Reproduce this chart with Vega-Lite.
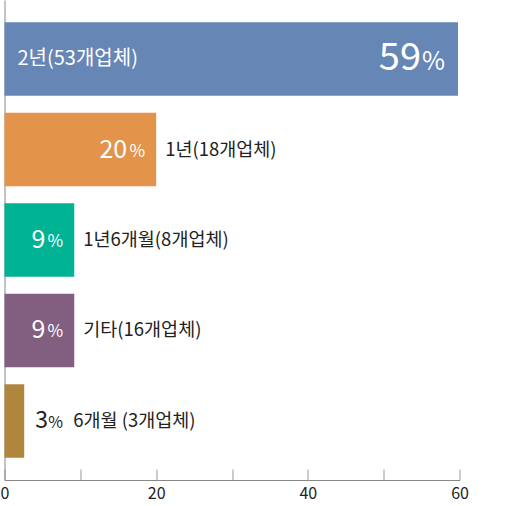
{
  "$schema": "https://vega.github.io/schema/vega-lite/v6.json",
  "width": 455,
  "height": 480,
  "autosize": {"type": "none"},
  "padding": {"left": 4.5, "top": 0, "right": 59.5, "bottom": 26},
  "config": {"view": {"stroke": null}, "font": "Noto Sans CJK KR"},
  "data": {
    "values": [
      {"rank": 1, "label": "2년(53개업체)", "pct": "59", "value": 59.8},
      {"rank": 2, "label": "1년(18개업체)", "pct": "20", "value": 20},
      {"rank": 3, "label": "1년6개월(8개업체)", "pct": "9", "value": 9.2},
      {"rank": 4, "label": "기타(16개업체)", "pct": "9", "value": 9.2},
      {"rank": 5, "label": "6개월 (3개업체)", "pct": "3", "value": 2.6}
    ]
  },
  "encoding": {
    "y": {
      "field": "rank",
      "type": "ordinal",
      "scale": {"paddingInner": 0.19, "paddingOuter": 0.247},
      "axis": {"title": null, "labels": false, "ticks": false, "grid": false, "domainColor": "#888"}
    },
    "x": {
      "field": "value",
      "type": "quantitative",
      "scale": {"domain": [0, 60], "nice": false},
      "axis": {
        "title": null,
        "grid": false,
        "values": [0, 10, 20, 30, 40, 50, 60],
        "labelExpr": "datum.value % 20 === 0 ? datum.label : ''",
        "labelFlush": false,
        "tickSize": -11,
        "tickColor": "#999",
        "domainColor": "#888",
        "labelFont": "Noto Sans CJK KR",
        "labelFontSize": 16,
        "labelColor": "#222",
        "labelPadding": 16
      }
    }
  },
  "layer": [
    {
      "mark": {"type": "bar"},
      "encoding": {
        "color": {
          "field": "rank",
          "type": "ordinal",
          "scale": {"range": ["#6686b6", "#e3934a", "#00b394", "#825e80", "#b0863c"]},
          "legend": null
        }
      }
    },
    {
      "transform": [{"filter": "datum.rank === 1"}],
      "mark": {"type": "text", "align": "left", "baseline": "middle", "dx": 13, "fontSize": 20, "color": "white"},
      "encoding": {"x": {"datum": 0}, "text": {"field": "label"}}
    },
    {
      "transform": [{"filter": "datum.rank > 1 && datum.rank < 5"}],
      "mark": {"type": "text", "align": "left", "baseline": "middle", "dx": 9, "fontSize": 18.5, "color": "#222"},
      "encoding": {"text": {"field": "label"}}
    },
    {
      "transform": [{"filter": "datum.rank === 5"}],
      "mark": {"type": "text", "align": "left", "baseline": "middle", "dx": 49, "fontSize": 18.5, "color": "#222"},
      "encoding": {"text": {"field": "label"}}
    },
    {
      "transform": [{"filter": "datum.rank === 1"}],
      "mark": {"type": "text", "align": "right", "baseline": "middle", "dx": -37, "fontSize": 38, "color": "white"},
      "encoding": {"text": {"field": "pct"}}
    },
    {
      "transform": [{"filter": "datum.rank === 1"}],
      "mark": {"type": "text", "align": "right", "baseline": "middle", "dx": -13, "dy": 3, "fontSize": 25, "color": "white"},
      "encoding": {"text": {"value": "%"}}
    },
    {
      "transform": [{"filter": "datum.rank > 1 && datum.rank < 5"}],
      "mark": {"type": "text", "align": "right", "baseline": "middle", "dx": -29, "fontSize": 25, "color": "white"},
      "encoding": {"text": {"field": "pct"}}
    },
    {
      "transform": [{"filter": "datum.rank > 1 && datum.rank < 5"}],
      "mark": {"type": "text", "align": "right", "baseline": "middle", "dx": -11, "dy": 2, "fontSize": 17, "color": "white"},
      "encoding": {"text": {"value": "%"}}
    },
    {
      "transform": [{"filter": "datum.rank === 5"}],
      "mark": {"type": "text", "align": "left", "baseline": "middle", "dx": 11, "fontSize": 23, "color": "#222"},
      "encoding": {"text": {"field": "pct"}}
    },
    {
      "transform": [{"filter": "datum.rank === 5"}],
      "mark": {"type": "text", "align": "left", "baseline": "middle", "dx": 24, "dy": 2, "fontSize": 16, "color": "#222"},
      "encoding": {"text": {"value": "%"}}
    }
  ]
}
